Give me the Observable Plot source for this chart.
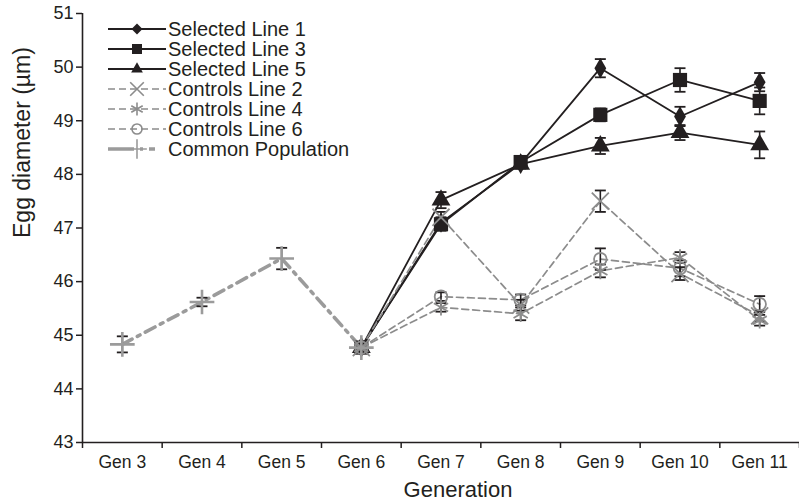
<!DOCTYPE html>
<html>
<head>
<meta charset="utf-8">
<script src="https://cdn.jsdelivr.net/npm/d3@7"></script>
<script src="https://cdn.jsdelivr.net/npm/@observablehq/plot@0.6"></script>
<style>
  body { margin: 0; background: #fff; }
  #wrap { position: relative; width: 799px; height: 504px; font-family: "Liberation Sans", Arial, Helvetica, sans-serif; }
  #legend { position: absolute; left: 0; top: 0; }
</style>
</head>
<body>
<div id="wrap"></div>
<script>
// ---- data ----
const generations = [3, 4, 5, 6, 7, 8, 9, 10, 11];
const tickLabels = generations.map(g => `Gen ${g}`);
const yTicks = [43, 44, 45, 46, 47, 48, 49, 50, 51];

const commonGens = [3, 4, 5, 6];
const commonMean = [44.83, 45.62, 46.43, 44.77];
const commonErr  = [0.15, 0.08, 0.20, 0.06];

const lineGens = [6, 7, 8, 9, 10, 11];
const sel1Mean = [44.77, 47.10, 48.20, 49.98, 49.08, 49.72];
const sel1Err  = [0.06, 0.10, 0.08, 0.17, 0.18, 0.17];
const sel3Mean = [44.77, 47.07, 48.23, 49.11, 49.76, 49.37];
const sel3Err  = [0.06, 0.12, 0.10, 0.12, 0.22, 0.25];
const sel5Mean = [44.77, 47.52, 48.19, 48.53, 48.78, 48.55];
const sel5Err  = [0.06, 0.15, 0.08, 0.15, 0.14, 0.25];
const ctl2Mean = [44.77, 47.20, 45.56, 47.50, 46.15, 45.36];
const ctl2Err  = [0.06, 0.10, 0.10, 0.20, 0.12, 0.10];
const ctl4Mean = [44.77, 45.52, 45.40, 46.20, 46.45, 45.28];
const ctl4Err  = [0.06, 0.08, 0.12, 0.12, 0.10, 0.10];
const ctl6Mean = [44.77, 45.72, 45.66, 46.42, 46.25, 45.58];
const ctl6Err  = [0.06, 0.08, 0.10, 0.20, 0.15, 0.15];

const seriesNames = ["Selected Line 1", "Selected Line 3", "Selected Line 5",
  "Controls Line 2", "Controls Line 4", "Controls Line 6", "Common Population"];

// ---- styles ----
const BLACK = "#231f20", GRAY = "#8c8c8c", LGRAY = "#9b9b9b";
const styles = {
  "Selected Line 1": {gens: lineGens, mean: sel1Mean, err: sel1Err, stroke: BLACK, sw: 1.8, dash: null, symbol: "diamond", r: 6.2, fill: BLACK, msw: 0},
  "Selected Line 3": {gens: lineGens, mean: sel3Mean, err: sel3Err, stroke: BLACK, sw: 1.8, dash: null, symbol: "square", r: 8, fill: BLACK, msw: 0},
  "Selected Line 5": {gens: lineGens, mean: sel5Mean, err: sel5Err, stroke: BLACK, sw: 1.8, dash: null, symbol: "triangle", r: 7, fill: BLACK, msw: 0},
  "Controls Line 2": {gens: lineGens, mean: ctl2Mean, err: ctl2Err, stroke: GRAY, sw: 1.7, dash: "7,4", symbol: "times", r: 7.8, fill: "none", msw: 1.8},
  "Controls Line 4": {gens: lineGens, mean: ctl4Mean, err: ctl4Err, stroke: GRAY, sw: 1.7, dash: "7,4", symbol: "asterisk", r: 7.8, fill: "none", msw: 1.8},
  "Controls Line 6": {gens: lineGens, mean: ctl6Mean, err: ctl6Err, stroke: GRAY, sw: 1.7, dash: "7,4", symbol: "circle", r: 6.3, fill: "none", msw: 1.8},
  "Common Population": {gens: commonGens, mean: commonMean, err: commonErr, stroke: LGRAY, sw: 3.6, dash: "11,6,3,6", symbol: "plus", r: 8, fill: "none", msw: 2.6}
};

const capSymbol = {
  draw(context, size) {
    const w = Math.sqrt(size / Math.PI);
    context.moveTo(-w, 0);
    context.lineTo(w, 0);
  }
};

const marks = [];
const allRows = [];
for (const name of seriesNames) {
  const s = styles[name];
  const rows = s.gens.map((g, i) => ({series: name, gen: g, value: s.mean[i], err: s.err[i]}));
  allRows.push(rows);
}
seriesNames.forEach((name, k) => {
  const s = styles[name];
  marks.push(Plot.line(allRows[k], {x: "gen", y: "value", stroke: s.stroke, strokeWidth: s.sw, strokeDasharray: s.dash}));
});
seriesNames.forEach((name, k) => {
  const rows = allRows[k];
  marks.push(Plot.ruleX(rows, {x: "gen", y1: d => d.value - d.err, y2: d => d.value + d.err, stroke: BLACK, strokeWidth: 1.6}));
  marks.push(Plot.dot(rows, {x: "gen", y: d => d.value + d.err, symbol: capSymbol, r: 5.5, stroke: BLACK, strokeWidth: 1.8, fill: "none"}));
  marks.push(Plot.dot(rows, {x: "gen", y: d => d.value - d.err, symbol: capSymbol, r: 5.5, stroke: BLACK, strokeWidth: 1.8, fill: "none"}));
});
seriesNames.forEach((name, k) => {
  const s = styles[name];
  marks.push(Plot.dot(allRows[k], {x: "gen", y: "value", symbol: s.symbol, r: s.r,
    fill: s.fill, stroke: s.msw ? s.stroke : "none", strokeWidth: s.msw}));
});

const chart = Plot.plot({
  width: 799,
  height: 504,
  marginLeft: 82,
  marginRight: 0,
  marginTop: 13,
  marginBottom: 62,
  style: {fontFamily: '"Liberation Sans", Arial, Helvetica, sans-serif', fontSize: "17.5px", color: "#231f20", background: "white", overflow: "visible"},
  x: {domain: [2.5, 11.5], label: null},
  y: {domain: [43, 51], label: null},
  marks: [
    Plot.axisY({ticks: yTicks, tickSize: 6, tickPadding: 3, fontSize: 18, stroke: BLACK, strokeWidth: 1.5, tickFormat: d => String(d), label: null}),
    Plot.axisX({ticks: d3.range(2.5, 12, 1), tickSize: 6, tickFormat: () => "", stroke: BLACK, strokeWidth: 1.5, label: null}),
    Plot.axisX({ticks: generations, tickSize: 0, tickPadding: 13, fontSize: 17.5, tickFormat: d => tickLabels[generations.indexOf(d)], label: null}),
    Plot.ruleX([2.5], {stroke: BLACK, strokeWidth: 1.6}),
    Plot.ruleY([43], {stroke: BLACK, strokeWidth: 1.6}),
    Plot.text(["Egg diameter (µm)"], {frameAnchor: "left", rotate: -90, dx: -60, dy: 10, fontSize: 23, fill: BLACK}),
    Plot.text(["Generation"], {frameAnchor: "bottom", dy: 54, dx: 17, fontSize: 22, fill: BLACK}),
    ...marks
  ]
});

const wrap = document.getElementById("wrap");
wrap.appendChild(chart);

// ---- legend overlay ----
const lg = d3.select(wrap).append("svg").attr("id", "legend").attr("width", 400).attr("height", 170);
const symMap = {diamond: d3.symbolDiamond2, square: d3.symbolSquare2, triangle: d3.symbolTriangle2,
  times: d3.symbolTimes, asterisk: d3.symbolAsterisk, circle: d3.symbolCircle, plus: d3.symbolPlus};
seriesNames.forEach((name, i) => {
  const s = styles[name];
  const y = 29 + i * 20;
  const g = lg.append("g").attr("transform", `translate(0,${y})`);
  g.append("line").attr("x1", 108).attr("x2", 166).attr("y1", 0).attr("y2", 0)
    .attr("stroke", s.stroke).attr("stroke-width", s.sw)
    .attr("stroke-dasharray", s.dash ? (name === "Common Population" ? "26,6,3,6,6" : "7,4") : null);
  const lr = s.r * 0.8;
  g.append("path").attr("transform", "translate(137,0)")
    .attr("d", d3.symbol(symMap[s.symbol], Math.PI * lr * lr)())
    .attr("fill", s.fill).attr("stroke", s.msw ? s.stroke : "none").attr("stroke-width", s.msw ? 1.6 : 0);
  g.append("text").attr("x", 168).attr("y", 0).attr("dy", "0.35em")
    .attr("font-size", 20).attr("fill", BLACK).text(name);
});
</script>
</body>
</html>
